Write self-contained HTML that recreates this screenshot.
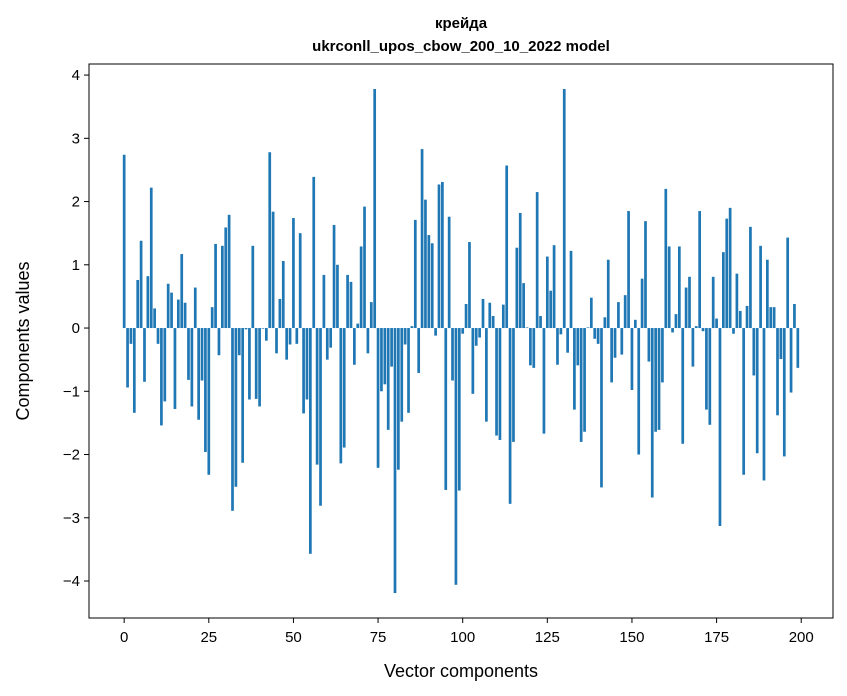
<!DOCTYPE html>
<html><head><meta charset="utf-8"><style>
body{margin:0;background:#fff;}
svg{display:block;font-family:"Liberation Sans","DejaVu Sans",sans-serif;}
</style></head><body>
<svg id="chart" width="847" height="696" viewBox="0 0 847 696" xmlns="http://www.w3.org/2000/svg">
<rect width="847" height="696" fill="#fff"/>
<text x="461" y="28" text-anchor="middle" font-size="15" font-weight="bold">крейда</text>
<text x="461" y="51" text-anchor="middle" font-size="15" font-weight="bold">ukrconll_upos_cbow_200_10_2022 model</text>
<g id="bars"></g>
<g id="axes"></g>
<rect x="89" y="64" width="744" height="554" fill="none" stroke="#000" stroke-width="1"/>
<text x="461" y="677" text-anchor="middle" font-size="18">Vector components</text>
<text transform="translate(29,341) rotate(-90)" text-anchor="middle" font-size="18">Components values</text>
</svg>
<script>
const values = [2.74,-0.94,-0.25,-1.34,0.76,1.38,-0.85,0.82,2.22,0.31,-0.25,-1.54,-1.16,0.70,0.56,-1.28,0.45,1.17,0.40,-0.82,
-1.24,0.64,-1.45,-0.83,-1.96,-2.32,0.33,1.33,-0.43,1.30,1.59,1.79,-2.89,-2.51,-0.43,-2.13,-0.02,-1.13,1.30,-1.12,
-1.24,-0.01,-0.20,2.78,1.84,-0.40,0.46,1.06,-0.50,-0.26,1.74,-0.25,1.50,-1.35,-1.13,-3.57,2.39,-2.16,-2.81,0.84,
-0.50,-0.31,1.63,1.00,-2.14,-1.89,0.84,0.73,-0.58,0.07,1.29,1.92,-0.40,0.41,3.78,-2.21,-1.00,-0.89,-1.61,-0.61,
-4.19,-2.24,-1.48,-0.26,-1.34,0.03,1.71,-0.71,2.83,2.03,1.47,1.34,-0.12,2.27,2.31,-2.56,1.76,-0.83,-4.06,-2.57,
-0.09,0.38,1.36,-1.04,-0.28,-0.15,0.46,-1.48,0.40,0.19,-1.70,-1.77,0.37,2.57,-2.78,-1.80,1.27,1.82,0.71,0.01,
-0.59,-0.63,2.15,0.19,-1.67,1.13,0.59,1.31,-0.58,-0.10,3.78,-0.39,1.22,-1.29,-0.59,-1.80,-1.64,0.01,0.48,-0.17,
-0.25,-2.52,0.17,1.08,-0.86,-0.47,0.41,-0.42,0.52,1.85,-0.98,0.13,-2.00,0.78,1.69,-0.53,-2.68,-1.64,-1.61,-0.86,
2.20,1.29,-0.07,0.22,1.29,-1.83,0.64,0.81,-0.61,0.03,1.85,-0.05,-1.29,-1.53,0.81,0.15,-3.13,1.20,1.73,1.90,
-0.09,0.86,0.27,-2.32,0.35,1.60,-0.75,-1.98,1.30,-2.41,1.08,0.33,0.33,-1.38,-0.49,-2.03,1.43,-1.02,0.38,-0.63];
const xTicks = [0,25,50,75,100,125,150,175,200];
const yTicks = [-4,-3,-2,-1,0,1,2,3,4];
const yTickLabels = ["\u22124","\u22123","\u22122","\u22121","0","1","2","3","4"];

const NS = "http://www.w3.org/2000/svg";
const L = 89, R = 833, T = 64, B = 618;
const xMin = -10.39, xMax = 209.39, yMin = -4.585, yMax = 4.175;
function xs(v){ return L + (v - xMin) / (xMax - xMin) * (R - L); }
function ys(v){ return T + (yMax - v) / (yMax - yMin) * (B - T); }

const gb = document.getElementById('bars');
const bw = xs(0.8) - xs(0);
values.forEach((v, i) => {
  const r = document.createElementNS(NS, 'rect');
  
  
  const y0 = ys(0), y1 = ys(v);
  r.setAttribute('x', xs(i) - bw / 2);
  r.setAttribute('y', Math.min(y0, y1));
  r.setAttribute('width', bw);
  r.setAttribute('height', Math.abs(y1 - y0));
  r.setAttribute('fill', '#1f77b4');
  gb.appendChild(r);
});

const ga = document.getElementById('axes');
xTicks.forEach(t => {
  const x = xs(t);
  const ln = document.createElementNS(NS, 'line');
  
  
  ln.setAttribute('x1', x); ln.setAttribute('x2', x);
  ln.setAttribute('y1', B); ln.setAttribute('y2', B + 5);
  ln.setAttribute('stroke', '#000');
  ga.appendChild(ln);
  const tx = document.createElementNS(NS, 'text');
  
  
  tx.setAttribute('x', x); tx.setAttribute('y', B + 24);
  tx.setAttribute('text-anchor', 'middle');
  tx.setAttribute('font-size', '15');
  tx.textContent = t;
  ga.appendChild(tx);
});
yTicks.forEach((t, k) => {
  const y = ys(t);
  const ln = document.createElementNS(NS, 'line');
  
  
  ln.setAttribute('x1', L - 5); ln.setAttribute('x2', L);
  ln.setAttribute('y1', y); ln.setAttribute('y2', y);
  ln.setAttribute('stroke', '#000');
  ga.appendChild(ln);
  const tx = document.createElementNS(NS, 'text');
  
  
  tx.setAttribute('x', L - 9); tx.setAttribute('y', y + 5);
  tx.setAttribute('text-anchor', 'end');
  tx.setAttribute('font-size', '15');
  tx.textContent = yTickLabels[k];
  ga.appendChild(tx);
});
</script>
</body></html>
